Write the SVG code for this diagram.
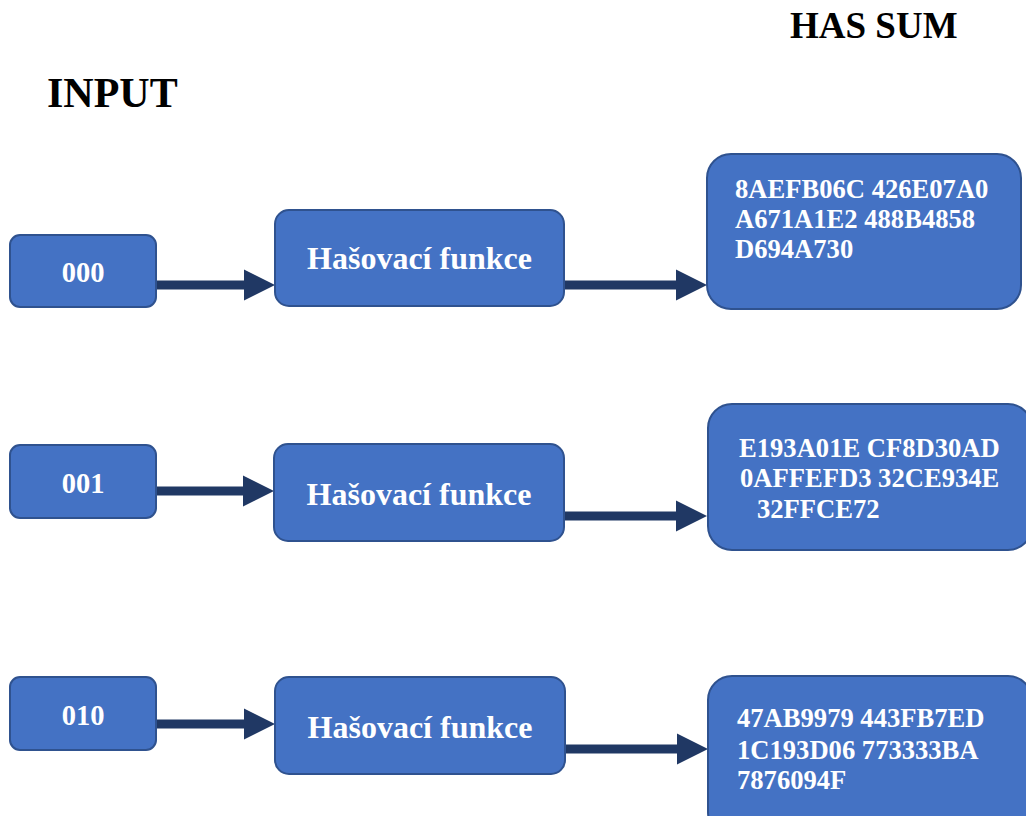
<svg xmlns="http://www.w3.org/2000/svg" width="1026" height="816" viewBox="0 0 1026 816">
<style>
.box{fill:#4472C4;stroke:#2F528F;stroke-width:2}
.t{font-weight:bold;fill:#FFFFFF}
.title{font-weight:bold;fill:#000000}
.arr{fill:#203864}
</style>
<rect width="1026" height="816" fill="#FFFFFF"/>
<g font-family="Liberation Serif, Times New Roman, serif">
<text class="title" x="790" y="38" font-size="37">HAS SUM</text>
<text class="title" x="47" y="107" font-size="42">INPUT</text>

<g id="connectors">
<path class="arr" d="M156 280.5 H244 V269.5 L275 285 L244 300.5 V289.5 H156 Z"/>
<path class="arr" d="M564 280.5 H676 V269.5 L707 285 L676 300.5 V289.5 H564 Z"/>
<path class="arr" d="M156 486.5 H243 V475.5 L274 491 L243 506.5 V495.5 H156 Z"/>
<path class="arr" d="M564 511.5 H676 V500.5 L707 516 L676 531.5 V520.5 H564 Z"/>
<path class="arr" d="M156 719.5 H244 V708.5 L275 724 L244 739.5 V728.5 H156 Z"/>
<path class="arr" d="M565 744.5 H677 V733.5 L708 749 L677 764.5 V753.5 H565 Z"/>
</g>

<g id="input-000">
<rect class="box" x="10" y="235" width="146" height="72" rx="10"/>
<text class="t" x="83" y="282" font-size="28.5" text-anchor="middle">000</text>
</g>
<g id="hash-1">
<rect class="box" x="275" y="210" width="289" height="96" rx="14"/>
<text class="t" x="419.5" y="269" font-size="32" text-anchor="middle">Hašovací funkce</text>
</g>
<g id="sum-1">
<rect class="box" x="707" y="154" width="314" height="155" rx="24"/>
<text class="t" font-size="26.6"><tspan x="735" y="198">8AEFB06C 426E07A0</tspan><tspan x="735" y="228">A671A1E2 488B4858</tspan><tspan x="735" y="258">D694A730</tspan></text>
</g>

<g id="input-001">
<rect class="box" x="10" y="445" width="146" height="73" rx="10"/>
<text class="t" x="83" y="493" font-size="28.5" text-anchor="middle">001</text>
</g>
<g id="hash-2">
<rect class="box" x="274" y="444" width="290" height="97" rx="14"/>
<text class="t" x="419" y="505" font-size="32" text-anchor="middle">Hašovací funkce</text>
</g>
<g id="sum-2">
<rect class="box" x="708" y="404" width="324" height="146" rx="24"/>
<text class="t" font-size="26.6"><tspan x="739" y="457">E193A01E CF8D30AD</tspan><tspan x="740" y="487">0AFFEFD3 32CE934E</tspan><tspan x="757" y="518">32FFCE72</tspan></text>
</g>

<g id="input-010">
<rect class="box" x="10" y="677" width="146" height="73" rx="10"/>
<text class="t" x="83" y="725" font-size="28.5" text-anchor="middle">010</text>
</g>
<g id="hash-3">
<rect class="box" x="275" y="677" width="290" height="97" rx="14"/>
<text class="t" x="420" y="738" font-size="32" text-anchor="middle">Hašovací funkce</text>
</g>
<g id="sum-3">
<rect class="box" x="708" y="676" width="324" height="160" rx="24"/>
<text class="t" font-size="26.6"><tspan x="737" y="727">47AB9979 443FB7ED</tspan><tspan x="737" y="759">1C193D06 773333BA</tspan><tspan x="737" y="789">7876094F</tspan></text>
</g>
</g>
</svg>
